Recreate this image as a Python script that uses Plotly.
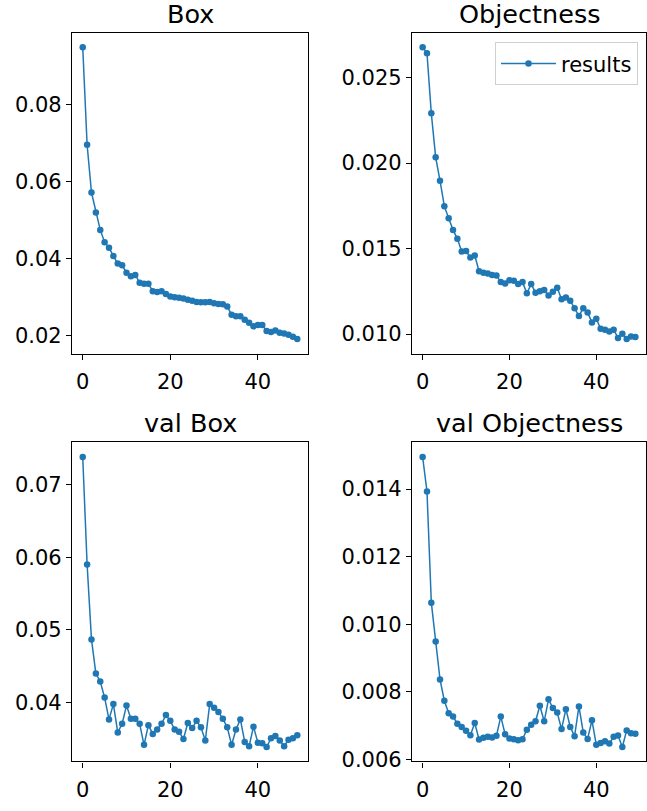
import plotly.graph_objects as go

epochs = list(range(50))

box = [0.0948, 0.0695, 0.0571, 0.0519, 0.0474, 0.0442, 0.0428, 0.0406, 0.0387, 0.0382,
       0.0363, 0.0354, 0.0357, 0.0337, 0.0334, 0.0334, 0.0315, 0.0313, 0.0315, 0.0308,
       0.0301, 0.0299, 0.0298, 0.0296, 0.0293, 0.0290, 0.0287, 0.0286, 0.0286, 0.0287,
       0.0284, 0.0282, 0.0281, 0.0275, 0.0254, 0.0250, 0.0250, 0.0241, 0.0233, 0.0224,
       0.0227, 0.0227, 0.0212, 0.0209, 0.0213, 0.0207, 0.0205, 0.0202, 0.0197, 0.0191]

objectness = [0.02678, 0.02643, 0.02291, 0.02034, 0.01897, 0.01748, 0.01678, 0.01609, 0.01557, 0.01483,
              0.01485, 0.01447, 0.01460, 0.01367, 0.01358, 0.01354, 0.01346, 0.01342, 0.01305, 0.01296,
              0.01315, 0.01311, 0.01292, 0.01305, 0.01238, 0.01292, 0.01242, 0.01251, 0.01257, 0.01226,
              0.01247, 0.01271, 0.01203, 0.01213, 0.01195, 0.01151, 0.01106, 0.01151, 0.01126, 0.01068,
              0.01089, 0.01031, 0.01025, 0.01015, 0.01025, 0.00977, 0.01002, 0.00971, 0.00986, 0.00983]

val_box = [0.0738, 0.0590, 0.0487, 0.0440, 0.0429, 0.0407, 0.0377, 0.0398, 0.0359, 0.0371,
           0.0396, 0.0378, 0.0378, 0.0371, 0.0342, 0.0369, 0.0357, 0.0363, 0.0371, 0.0383,
           0.0375, 0.0363, 0.0360, 0.0350, 0.0372, 0.0365, 0.0375, 0.0366, 0.0348, 0.0398,
           0.0393, 0.0387, 0.0378, 0.0366, 0.0342, 0.0363, 0.0377, 0.0346, 0.0340, 0.0367,
           0.0345, 0.0344, 0.0339, 0.0351, 0.0354, 0.0348, 0.0340, 0.0349, 0.0351, 0.0355]

val_objectness = [0.01495, 0.01393, 0.01064, 0.00949, 0.00837, 0.00774, 0.00737, 0.00727, 0.00706, 0.00696,
                  0.00685, 0.00672, 0.00708, 0.00659, 0.00664, 0.00667, 0.00665, 0.00670, 0.00727, 0.00675,
                  0.00662, 0.00660, 0.00657, 0.00660, 0.00688, 0.00703, 0.00713, 0.00759, 0.00713, 0.00778,
                  0.00752, 0.00739, 0.00690, 0.00749, 0.00696, 0.00669, 0.00757, 0.00680, 0.00661, 0.00716,
                  0.00644, 0.00649, 0.00654, 0.00647, 0.00667, 0.00671, 0.00637, 0.00686, 0.00678, 0.00676]

titles = ["Box", "Objectness", "val Box", "val Objectness"]
series = [box, objectness, val_box, val_objectness]
y_dticks = [0.02, 0.005, 0.01, 0.002]
y_formats = [".2f", ".3f", ".2f", ".3f"]
x_dtick = 20
legend_name = "results"

W, H = 647, 811
# panel boxes in pixels: (left, right, top, bottom)
boxes = [(72, 308, 33, 358), (412, 646, 33, 358), (72, 308, 448, 771), (412, 646, 448, 771)]

COLOR = "#1f77b4"
FONT = "DejaVu Sans"
TICK_SIZE = 21
TITLE_SIZE = 25.5

fig = go.Figure()
annotations = []
for i, (title, ys) in enumerate(zip(titles, series)):
    n = i + 1
    xa = "x" if n == 1 else f"x{n}"
    ya = "y" if n == 1 else f"y{n}"
    fig.add_trace(go.Scatter(
        x=epochs, y=ys, mode="lines+markers", name=legend_name,
        line=dict(color=COLOR, width=1.5),
        marker=dict(color=COLOR, size=6.5),
        xaxis=xa, yaxis=ya, showlegend=(i == 1),
    ))
    l, r, t, b = boxes[i]
    xdom = [l / W, r / W]
    ydom = [(H - b) / H, (H - t) / H]
    span_x = max(epochs) - min(epochs)
    xr = [min(epochs) - 0.05 * span_x, max(epochs) + 0.05 * span_x]
    span_y = max(ys) - min(ys)
    yr = [min(ys) - 0.05 * span_y, max(ys) + 0.05 * span_y]
    common = dict(showline=True, linecolor="black", linewidth=1.3, mirror=True,
                  ticks="outside", ticklen=5, tickwidth=1.3, tickcolor="black",
                  showgrid=False, zeroline=False,
                  tickfont=dict(family=FONT, size=TICK_SIZE, color="black"))
    fig.layout[("xaxis" if n == 1 else f"xaxis{n}")] = dict(
        domain=xdom, range=xr, dtick=x_dtick, tick0=0, anchor=ya,
        ticklabelstandoff=4, **common)
    fig.layout[("yaxis" if n == 1 else f"yaxis{n}")] = dict(
        domain=ydom, range=yr, dtick=y_dticks[i], tick0=0, tickformat=y_formats[i],
        anchor=xa, **common)
    annotations.append(dict(
        text=title, xref="paper", yref="paper", x=(l + r) / 2 / W, y=(H - t) / H,
        xanchor="center", yanchor="bottom", yshift=2, showarrow=False,
        font=dict(family=FONT, size=TITLE_SIZE, color="black")))

fig.update_layout(
    width=W, height=H, margin=dict(l=0, r=0, t=0, b=0),
    paper_bgcolor="white", plot_bgcolor="white",
    annotations=annotations,
    showlegend=True,
    legend=dict(x=638 / W, y=(H - 43) / H, xanchor="right", yanchor="top",
                itemwidth=55,
                bgcolor="rgba(255,255,255,0.8)", bordercolor="#d0d0d0", borderwidth=1,
                font=dict(family=FONT, size=TICK_SIZE, color="black")),
    font=dict(family=FONT),
)

fig.write_html(
    "out.html",
    config={"displayModeBar": False},
    post_script="document.body.style.margin='0';document.body.style.overflow='hidden';",
)
